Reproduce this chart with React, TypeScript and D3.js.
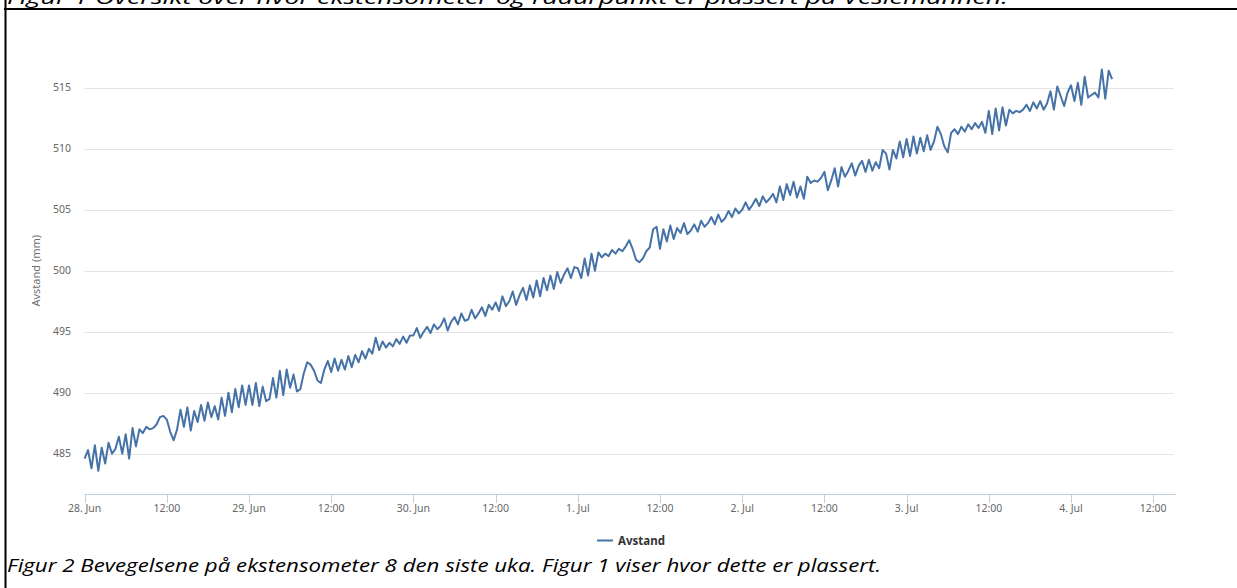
import * as d3 from "d3"

// measurements every 30 min, starting 28. Jun 00:00
const pointStart = Date.UTC(2018, 5, 28, 0, 0)
const pointInterval = 30 * 60 * 1000

const jun28 = [
  484.6, 485.3, 483.8, 485.7, 483.6, 485.5, 484.2, 485.9, 485.0, 485.4, 486.4, 485.0,
  486.6, 484.6, 487.1, 485.6, 487.0, 486.7, 487.2, 487.0, 487.1, 487.4, 488.0, 488.1,
  487.8, 486.8, 486.1, 487.0, 488.6, 487.2, 488.8, 486.9, 488.5, 487.6, 489.0, 487.7,
  489.2, 488.0, 488.9, 487.8, 489.6, 488.1, 490.0, 488.4, 490.3, 488.8, 490.6, 489.0,
]
const jun29 = [
  490.6, 489.0, 490.8, 488.9, 490.5, 489.3, 489.5, 491.2, 489.6, 491.8, 489.8, 491.9,
  490.4, 491.5, 490.1, 490.3, 491.6, 492.5, 492.3, 491.8, 491.0, 490.8, 491.9, 492.6,
  491.7, 492.8, 491.8, 492.7, 491.9, 493.0, 492.1, 493.1, 492.5, 493.4, 492.8, 493.6,
  493.2, 494.5, 493.5, 494.2, 493.7, 494.1, 493.8, 494.4, 494.0, 494.6, 494.1, 494.7,
]
const jun30 = [
  494.7, 495.3, 494.5, 495.0, 495.4, 494.9, 495.6, 495.2, 495.5, 496.1, 495.1, 495.8,
  496.2, 495.6, 496.5, 495.9, 496.0, 496.8, 496.1, 496.5, 497.0, 496.3, 497.2, 496.8,
  497.4, 496.7, 497.9, 497.1, 497.5, 498.3, 497.2, 498.0, 498.6, 497.6, 498.8, 497.8,
  499.2, 497.9, 499.4, 498.4, 499.6, 498.5, 499.9, 499.0, 499.7, 500.2, 499.4, 500.3,
]
const jul1 = [
  500.2, 499.4, 501.0, 499.6, 501.4, 500.0, 501.5, 501.1, 501.4, 501.2, 501.7, 501.4,
  501.8, 501.6, 502.0, 502.5, 501.8, 500.9, 500.7, 501.0, 501.6, 501.9, 503.4, 503.6,
  501.8, 503.4, 502.4, 503.7, 502.6, 503.5, 503.1, 503.9, 503.0, 503.3, 503.8, 503.2,
  504.1, 503.6, 503.9, 504.4, 503.8, 504.6, 504.0, 504.3, 504.9, 504.4, 505.1, 504.7,
]
const jul2 = [
  505.0, 505.6, 505.0, 505.4, 505.9, 505.3, 506.1, 505.6, 505.9, 506.3, 505.6, 506.9,
  505.8, 507.1, 506.2, 507.3, 506.0, 506.9, 505.9, 507.7, 507.2, 507.4, 507.3, 507.6,
  508.1, 506.6, 507.4, 508.4, 506.9, 508.5, 507.7, 508.2, 508.8, 507.8, 508.6, 509.0,
  508.1, 509.1, 508.2, 508.9, 508.4, 509.9, 509.6, 508.3, 509.9, 509.2, 510.6, 509.3,
]
const jul3 = [
  510.8, 509.4, 511.0, 509.6, 510.9, 509.8, 511.1, 509.9, 510.6, 511.8, 511.2, 510.2,
  509.7, 511.3, 511.6, 511.2, 511.8, 511.4, 512.0, 511.6, 512.1, 511.7, 512.2, 511.3,
  513.1, 511.2, 513.3, 511.5, 513.4, 511.9, 513.2, 512.9, 513.1, 513.0, 513.2, 513.6,
  513.1, 513.8, 513.3, 513.9, 513.2, 513.7, 514.7, 513.2, 515.1, 514.3, 513.5, 514.6,
]
const jul4 = [
  515.2, 513.9, 515.4, 513.6, 515.9, 514.2, 514.4, 514.6, 514.2, 516.5, 514.1, 516.4, 515.7,
]

const avstand = [...jun28, ...jun29, ...jun30, ...jul1, ...jul2, ...jul3, ...jul4]
const yTicks = [485, 490, 495, 500, 505, 510, 515]
const monthNames = ["Jan", "Feb", "Mar", "Apr", "May", "Jun", "Jul", "Aug", "Sep", "Oct", "Nov", "Dec"]

const topCaption = "Figur 1 Oversikt over hvor ekstensometer og radarpunkt er plassert på Veslemannen."
const bottomCaption = "Figur 2 Bevegelsene på ekstensometer 8 den siste uka. Figur 1 viser hvor dette er plassert."

const W = 1237, H = 588
const plotLeft = 84.6, plotRight = 1176.5, plotBottom = 494
const lineColor = "#4572A7"
const labelFont = "'Noto Sans', 'Open Sans', sans-serif"

export default function App() {
  const data = avstand.map((v, i) => ({ t: new Date(pointStart + i * pointInterval), v }))

  const x = d3.scaleUtc()
    .domain([new Date(pointStart), new Date(pointStart + 159.4 * 3600 * 1000)])
    .range([plotLeft, plotRight])

  const y = d3.scaleLinear()
    .domain([481.7, 518.6])
    .range([plotBottom, 43.8])

  const line = d3.line<{ t: Date, v: number }>()
    .x(d => x(d.t))
    .y(d => y(d.v))

  const xTicks = d3.utcHour.every(12)!.range(new Date(pointStart), x.domain()[1])
  const fmt = (d: Date) => d.getUTCHours() === 0
    ? `${d.getUTCDate()}. ${monthNames[d.getUTCMonth()]}`
    : "12:00"

  return (
    <svg width={W} height={H} style={{ position: "absolute", left: 0, top: 0, background: "#fff" }}>
      {/* document frame, caption of the figure above is cut by the page top */}
      <text x={7} y={4} fontFamily="'Open Sans', sans-serif" fontStyle="italic" fontSize={18}
        textLength={1001} lengthAdjust="spacingAndGlyphs" fill="#000">{topCaption}</text>
      <line x1={4} x2={W} y1={9} y2={9} stroke="#000" strokeWidth={2} />
      <line x1={5.5} x2={5.5} y1={0} y2={H} stroke="#000" strokeWidth={2} />

      {/* grid */}
      {yTicks.map(t => (
        <g key={t}>
          <line x1={plotLeft} x2={plotRight - 3} y1={Math.round(y(t)) + 0.5} y2={Math.round(y(t)) + 0.5}
            stroke="#e3e3e3" strokeWidth={1} />
          <text x={71} y={y(t)} dy="0.32em" textAnchor="end" fontFamily={labelFont}
            fontSize={10.5} fill="#666">{t}</text>
        </g>
      ))}
      <text transform={`translate(40,${y(500)}) rotate(-90)`} textAnchor="middle"
        fontFamily={labelFont} fontSize={11} fill="#707070">Avstand (mm)</text>

      {/* x axis */}
      <line x1={plotLeft} x2={plotRight} y1={plotBottom + 0.5} y2={plotBottom + 0.5} stroke="#C0D0E0" strokeWidth={1} />
      {xTicks.map(t => (
        <g key={+t}>
          <line x1={Math.round(x(t)) + 0.5} x2={Math.round(x(t)) + 0.5} y1={plotBottom} y2={plotBottom + 9}
            stroke="#C0D0E0" strokeWidth={1} />
          <text x={x(t)} y={509} dy="0.32em" textAnchor="middle" fontFamily={labelFont}
            fontSize={10.5} fill="#666">{fmt(t)}</text>
        </g>
      ))}

      {/* series */}
      <path d={line(data)!} fill="none" stroke={lineColor} strokeWidth={2} strokeLinejoin="round" />

      {/* legend */}
      <line x1={597} x2={613} y1={540.5} y2={540.5} stroke={lineColor} strokeWidth={2} />
      <text x={618} y={540.5} dy="0.35em" fontFamily={labelFont} fontSize={11.5} fontWeight="bold"
        fill="#333">Avstand</text>

      <text x={7} y={572} fontFamily="'Open Sans', sans-serif" fontStyle="italic" fontSize={18}
        textLength={874} lengthAdjust="spacingAndGlyphs" fill="#000">{bottomCaption}</text>
    </svg>
  )
}
